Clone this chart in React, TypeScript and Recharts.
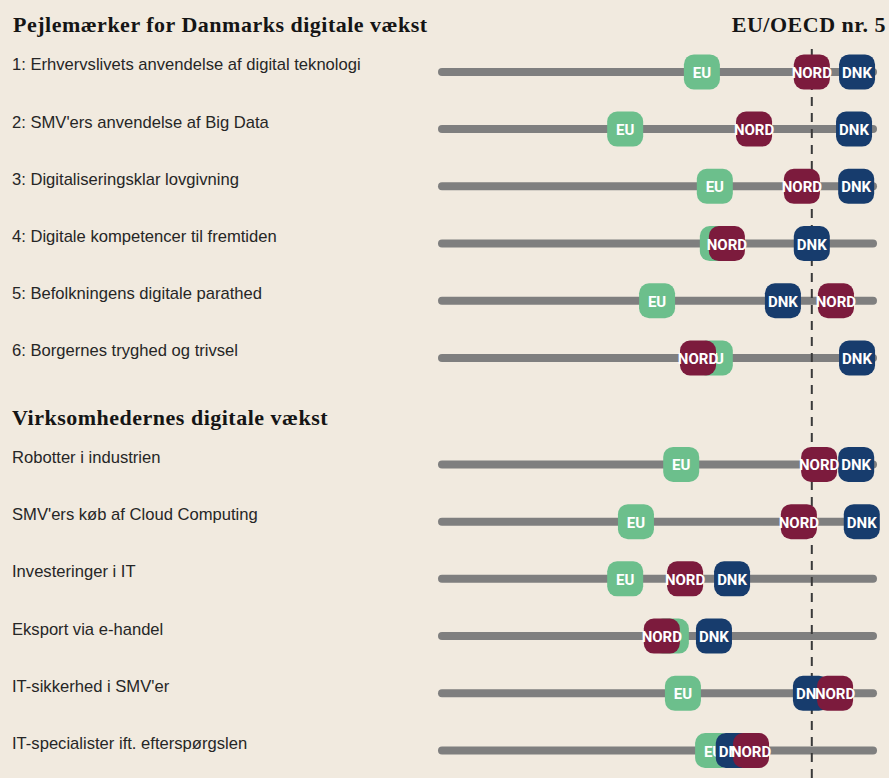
import React from 'react';
import { ScatterChart, Scatter, XAxis, YAxis, ReferenceLine } from 'recharts';

const title = 'Pejlemærker for Danmarks digitale vækst';
const benchmarkLabel = 'EU/OECD nr. 5';
const sectionTwoTitle = 'Virksomhedernes digitale vækst';

const indicatorLabels = [
  '1: Erhvervslivets anvendelse af digital teknologi',
  "2: SMV'ers anvendelse af Big Data",
  '3: Digitaliseringsklar lovgivning',
  '4: Digitale kompetencer til fremtiden',
  '5: Befolkningens digitale parathed',
  '6: Borgernes tryghed og trivsel',
];

const companyLabels = [
  'Robotter i industrien',
  "SMV'ers køb af Cloud Computing",
  'Investeringer i IT',
  'Eksport via e-handel',
  "IT-sikkerhed i SMV'er",
  'IT-specialister ift. efterspørgslen',
];

// position on the scale, row by row (indicators first, then companies)
const euValues = [60.3, 42.5, 63.3, 64.0, 49.9, 63.3, 55.5, 45.0, 42.5, 53.1, 55.9, 62.9];
const nordValues = [85.8, 72.4, 83.5, 66.1, 91.4, 59.4, 87.5, 82.8, 56.4, 51.0, 91.2, 71.7];
const dnkValues = [96.3, 95.6, 96.1, 85.8, 79.1, 96.3, 96.1, 97.4, 67.3, 63.1, 85.6, 67.7];

const benchmark = 85.8;

const labels = [...indicatorLabels, ...companyLabels];
const rowPos = labels.map((_, i) => (i < indicatorLabels.length ? i : i + 0.86));
const headerPos = 6.04;

const COLORS = { EU: '#6cbf8c', NORD: '#7c1b3d', DNK: '#173c6d' };

const serifHead = { fontFamily: "'Liberation Serif', serif", fontWeight: 700, fontSize: 22, letterSpacing: 0.5, color: '#151515' };

const toData = (vals: number[]) => vals.map((v, i) => ({ x: v, y: rowPos[i] }));

const Marker = (props: any) => {
  const { cx, cy, code } = props;
  return (
    <g>
      <rect x={cx - 18} y={cy - 17.5} width={36} height={35} rx={10} ry={10} fill={COLORS[code as keyof typeof COLORS]} />
      <text
        x={cx}
        y={cy + 1}
        textAnchor="middle"
        dominantBaseline="central"
        fill="#fff"
        fontFamily="Roboto, sans-serif"
        fontWeight={700}
        fontSize={15}
      >
        {code}
      </text>
    </g>
  );
};

const LabelTick = (props: any) => {
  const { y, payload } = props;
  const v = payload.value;
  if (Math.abs(v - headerPos) < 0.01) {
    return (
      <text x={12} y={y} dominantBaseline="central" fontFamily="'Liberation Serif', serif" fontWeight={700} fontSize={22} letterSpacing={0.5} fill="#151515">
        {sectionTwoTitle}
      </text>
    );
  }
  const idx = rowPos.findIndex(p => Math.abs(p - v) < 0.01);
  return (
    <text x={12} y={y - 7} dominantBaseline="central" fontFamily="'Liberation Sans', Arial, sans-serif" fontSize={16.6} fill="#262626">
      {labels[idx]}
    </text>
  );
};

const App: React.FC = () => {
  return (
    <div style={{ position: 'absolute', left: 0, top: 0, width: 889, height: 778, background: '#f1eadf', overflow: 'hidden' }}>
      <div style={{ ...serifHead, position: 'absolute', left: 13, top: 12, whiteSpace: 'nowrap' }}>{title}</div>
      <div style={{ ...serifHead, position: 'absolute', right: 3, top: 12, whiteSpace: 'nowrap' }}>{benchmarkLabel}</div>
      <ScatterChart width={889} height={778} margin={{ top: 45, right: 16, bottom: 0, left: 0 }}>
        <XAxis type="number" dataKey="x" domain={[0, 100]} hide />
        <YAxis
          type="number"
          dataKey="y"
          domain={[-0.47, 12.34]}
          reversed
          width={442}
          ticks={[...rowPos, headerPos]}
          interval={0}
          axisLine={false}
          tickLine={false}
          tick={<LabelTick />}
        />
        {rowPos.map(p => (
          <ReferenceLine
            key={p}
            segment={[{ x: 0, y: p }, { x: 100, y: p }]}
            stroke="#7f7f7f"
            strokeWidth={8}
            strokeLinecap="round"
          />
        ))}
        <ReferenceLine x={benchmark} stroke="#3a3a3a" strokeWidth={2} strokeDasharray="9 7" />
        <Scatter data={toData(euValues)} isAnimationActive={false} shape={(p: any) => <Marker {...p} code="EU" />} />
        <Scatter data={toData(dnkValues)} isAnimationActive={false} shape={(p: any) => <Marker {...p} code="DNK" />} />
        <Scatter data={toData(nordValues)} isAnimationActive={false} shape={(p: any) => <Marker {...p} code="NORD" />} />
      </ScatterChart>
    </div>
  );
};

export default App;
